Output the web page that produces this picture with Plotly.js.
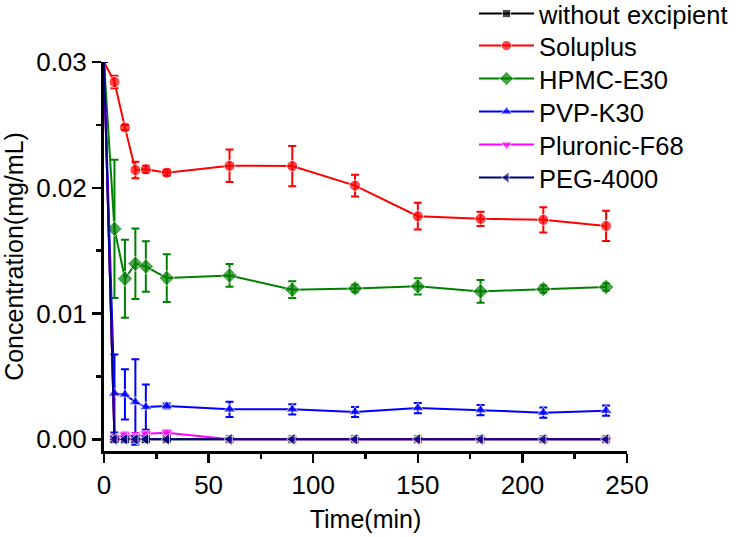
<!DOCTYPE html>
<html>
<head>
<meta charset="utf-8">
<script src="https://cdn.plot.ly/plotly-3.0.1.min.js"></script>
<style>html,body{margin:0;padding:0;background:#fff;}#chart{width:750px;height:537px;}</style>
</head>
<body>
<div id="chart"></div>
<script>
// Time points (min)
const time = [0, 5, 10, 15, 20, 30, 60, 90, 120, 150, 180, 210, 240];

// Concentration series (mg/mL)
const withoutExcipient = [0.030, 0, 0, 0, 0, 0, 0, 0, 0, 0, 0, 0, 0];
const soluplus   = [0.030, 0.02841, 0.0248, 0.02141, 0.02147, 0.0212, 0.02175, 0.02173, 0.02017, 0.01774, 0.01753, 0.01745, 0.01697];
const hpmcE30    = [0.030, 0.01673, 0.01277, 0.01396, 0.01374, 0.01282, 0.01303, 0.0119, 0.0120, 0.01216, 0.01176, 0.01195, 0.01211];
const pvpK30     = [0.030, 0.00365, 0.00357, 0.00296, 0.00256, 0.00264, 0.00238, 0.00238, 0.00217, 0.00248, 0.00232, 0.00212, 0.00228];
const pluronicF68= [0.030, 0.0001, 0.00037, 0.00021, 0.00045, 0.00053, 0, 0, 0, 0, 0, 0, 0];
const peg4000    = [0.030, 0, 0, 0, 0, 0, 0, 0, 0, 0, 0, 0, 0];

// Error bars (SD, mg/mL)
const soluplusErr   = [0, 0.0005, 0.0002, 0.00066, 0.0003, 0.00025, 0.0013, 0.0016, 0.00086, 0.00106, 0.00056, 0.001, 0.0012];
const hpmcE30Err    = [0, 0.0055, 0.0031, 0.0028, 0.002, 0.0019, 0.0009, 0.00067, 0.0003, 0.00065, 0.0009, 0.0003, 0.0003];
const pvpK30Err     = [0, 0.0031, 0.002, 0.0034, 0.0018, 0.0002, 0.0006, 0.0004, 0.0004, 0.0004, 0.0004, 0.0004, 0.0004];
const pluronicF68Err= [0, 0.0002, 0.0002, 0.0003, 0.0002, 0.0002, 0, 0, 0, 0, 0, 0, 0];
const zeroErr       = [0, 0.0002, 0.0002, 0.0002, 0.0002, 0.0001, 0, 0, 0, 0, 0, 0, 0];

const seriesNames = ["without excipient", "Soluplus", "HPMC-E30", "PVP-K30", "Pluronic-F68", "PEG-4000"];
const seriesData  = [withoutExcipient, soluplus, hpmcE30, pvpK30, pluronicF68, peg4000];
const seriesErr   = [zeroErr, soluplusErr, hpmcE30Err, pvpK30Err, pluronicF68Err, zeroErr];
const colors  = ["#000000", "#FF0000", "#008000", "#0000FF", "#FF00FF", "#000080"];
const symbols = ["square", "circle", "diamond", "triangle-up", "triangle-down", "triangle-left"];
const msizes  = [9, 11, 12, 11, 11, 11];

const font = "Arial, 'Liberation Sans', sans-serif";
const W = 750, H = 537;
const legendRowY = [14, 46, 79, 112, 145, 178]; // px from top, one legend per row

const traces = seriesNames.map((name, i) => ({
  type: "scatter",
  mode: "lines+markers",
  name: name,
  legend: i === 0 ? "legend" : "legend" + (i + 1),
  x: time,
  y: seriesData[i],
  line: {color: colors[i], width: 2},
  marker: {color: colors[i], symbol: symbols[i], size: time.map(t => t === 0 ? 0 : msizes[i])},
  error_y: {type: "data", array: seriesErr[i], visible: true, color: colors[i], thickness: 2, width: 4},
  cliponaxis: true
}));

const layout = {
  width: W, height: H,
  paper_bgcolor: "#fff", plot_bgcolor: "#fff",
  margin: {l: 104, r: 123, t: 62, b: 86, pad: 0, autoexpand: false},
  font: {family: font, size: 26, color: "#000"},
  showlegend: true,
  xaxis: {
    range: [0, 250], tickvals: [0, 50, 100, 150, 200, 250],
    showgrid: false, zeroline: false,
    showline: true, linecolor: "#000", linewidth: 3,
    ticks: "outside", ticklen: 9, tickwidth: 2.5, tickcolor: "#000",
    minor: {dtick: 25, ticks: "outside", ticklen: 5, tickwidth: 2.5, tickcolor: "#000", showgrid: false},
    tickfont: {family: font, size: 26},
    title: {text: "Time(min)", font: {family: font, size: 25}, standoff: 12},
    automargin: false
  },
  yaxis: {
    range: [-0.00093, 0.030], tickvals: [0, 0.01, 0.02, 0.03], ticktext: ["0.00", "0.01", "0.02", "0.03"],
    showgrid: false, zeroline: false,
    showline: true, linecolor: "#000", linewidth: 3,
    ticks: "outside", ticklen: 9, tickwidth: 2.5, tickcolor: "#000",
    minor: {dtick: 0.005, ticks: "outside", ticklen: 5, tickwidth: 2.5, tickcolor: "#000", showgrid: false},
    tickfont: {family: font, size: 26},
    title: {text: "Concentration(mg/mL)", font: {family: font, size: 25}, standoff: 13},
    automargin: false
  }
};

legendRowY.forEach((py, i) => {
  layout[i === 0 ? "legend" : "legend" + (i + 1)] = {
    xref: "container", yref: "container",
    x: 474 / W, y: 1 - py / H, xanchor: "left", yanchor: "middle",
    bgcolor: "rgba(0,0,0,0)", borderwidth: 0,
    font: {family: font, size: 25.5, color: "#000"},
    itemwidth: 55
  };
});

Plotly.newPlot("chart", traces, layout, {staticPlot: true, displayModeBar: false});
</script>
</body>
</html>
